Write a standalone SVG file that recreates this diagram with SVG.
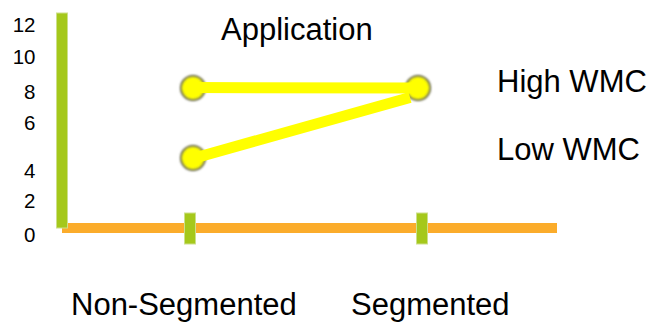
<svg xmlns="http://www.w3.org/2000/svg" width="656" height="322" viewBox="0 0 656 322">
  <style>
    .lbl { font-family: "Liberation Sans", Arial, sans-serif; fill: #000; }
    .big { font-size: 31px; }
    .tick { font-size: 20.5px; text-anchor: end; }
    .green { fill: #a5c81b; stroke: #cde08a; stroke-width: 1; }
    .orange { fill: #fbac2b; }
    .link { stroke: #ffff00; stroke-width: 11; stroke-linecap: butt; fill: none; }
    .dot { fill: #ffff00; stroke: #5e5e38; stroke-width: 2; filter: url(#soft); }
  </style>
  <defs>
    <filter id="soft" x="-30%" y="-30%" width="160%" height="160%">
      <feGaussianBlur stdDeviation="0.9"/>
    </filter>
  </defs>
  <rect width="656" height="322" fill="#fff"/>

  <!-- axes -->
  <g id="axes">
    <rect class="orange" x="62" y="223" width="495" height="10"/>
    <rect class="green" x="56.5" y="13" width="11" height="215"/>
    <rect class="green" x="184.5" y="213" width="11" height="31"/>
    <rect class="green" x="416.5" y="213" width="11" height="31"/>
  </g>

  <!-- y axis scale -->
  <g id="scale" class="lbl tick">
    <text x="35.5" y="31.5">12</text>
    <text x="35.5" y="64">10</text>
    <text x="35.5" y="98.5">8</text>
    <text x="35.5" y="130">6</text>
    <text x="35.5" y="178">4</text>
    <text x="35.5" y="208">2</text>
    <text x="35.5" y="241.5">0</text>
  </g>

  <!-- points -->
  <g id="nonseg-high"><circle class="dot" cx="193" cy="88" r="12"/></g>
  <g id="nonseg-low"><circle class="dot" cx="193" cy="158" r="12"/></g>
  <g id="seg"><circle class="dot" cx="418" cy="88" r="12"/></g>

  <!-- connectors -->
  <g id="connectors">
    <line class="link" x1="193" y1="87.5" x2="418" y2="88"/>
    <line class="link" x1="193" y1="158.5" x2="410" y2="97.5"/>
  </g>

  <!-- labels -->
  <g id="labels" class="lbl big">
    <text x="221" y="39.5">Application</text>
    <text x="497" y="91.5">High WMC</text>
    <text x="497" y="160">Low WMC</text>
    <text x="71" y="315">Non-Segmented</text>
    <text x="351" y="315">Segmented</text>
  </g>
</svg>
